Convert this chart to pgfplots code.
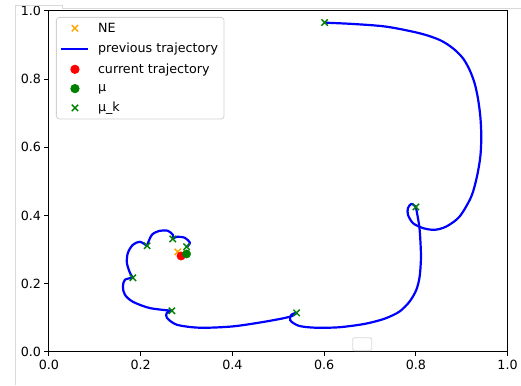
\documentclass[border=0pt]{standalone}
\usepackage{pgfplots}
\pgfplotsset{compat=1.18}
\usepackage{fontspec}
\setmainfont{DejaVu Sans}

\definecolor{mplorange}{HTML}{FFA500}
\definecolor{mplgreen}{HTML}{008000}

\pgfplotsset{traj/.style={blue, line width=2.2pt, smooth, tension=0.5, line join=round}}

\begin{document}
\begin{tikzpicture}[x=1pt,y=1pt]
\begin{axis}[
  at={(0,0)}, anchor=south west,
  scale only axis, width=459pt, height=341pt,
  xmin=0, xmax=1, ymin=0, ymax=1,
  xtick={0,0.2,0.4,0.6,0.8,1}, ytick={0,0.2,0.4,0.6,0.8,1},
  /pgf/number format/assume math mode=true,
  xticklabel style={/pgf/number format/.cd, fixed, fixed zerofill, precision=1},
  yticklabel style={/pgf/number format/.cd, fixed, fixed zerofill, precision=1},
  ticklabel style={font=\fontsize{12.7}{15}\selectfont},
  tick align=outside, tick pos=left, major tick length=4.5pt,
  tick style={black, line width=1pt},
  axis line style={black, line width=1pt},
  legend cell align=left,
  legend image code/.code={\draw[mark repeat=2,mark phase=2,#1] plot coordinates {(0pt,0pt)(13.5pt,0pt)(27pt,0pt)};},
  legend style={at={(0,1)}, anchor=north west, xshift=7pt, yshift=-6pt,
    draw=black!18, rounded corners=3pt, line width=0.8pt,
    font=\fontsize{12.7}{15}\selectfont, inner xsep=4pt, inner ysep=3.5pt,
    row sep=5.5pt, /tikz/every odd column/.append style={column sep=6.5pt}},
]
% Nash equilibrium
\addplot[only marks, mark=x, mark size=4.5pt, color=mplorange, line width=1.4pt] coordinates {(0.281,0.293)};
\addlegendentry{NE}

% previous trajectory, one smooth piece between consecutive mu_k
\addplot[traj] coordinates {
(0.6013,0.9657) (0.6630,0.9619) (0.7357,0.9540) (0.8083,0.9346) (0.8519,0.9150)
(0.8808,0.8906) (0.9026,0.8613) (0.9172,0.8270) (0.9281,0.7880) (0.9353,0.7440)
(0.9406,0.6901) (0.9427,0.6315) (0.9406,0.5728) (0.9332,0.5141) (0.9209,0.4555)
(0.8954,0.3968) (0.8664,0.3675) (0.8410,0.3578) (0.8155,0.3628) (0.7937,0.3774)
(0.7828,0.4018) (0.7828,0.4214) (0.7902,0.4340) (0.8000,0.4252)};
\addlegendentry{previous trajectory}
\addplot[traj, forget plot] coordinates {
(0.8000,0.4252) (0.8075,0.3675) (0.8105,0.3088) (0.8110,0.2698) (0.8083,0.2208)
(0.8011,0.1818) (0.7865,0.1475) (0.7647,0.1182) (0.7357,0.0988) (0.7065,0.0871)
(0.6776,0.0792) (0.6300,0.0715) (0.5800,0.0705) (0.5450,0.0760) (0.5260,0.0920)
(0.5287,0.1085) (0.5400,0.1140)};
\addplot[traj, forget plot] coordinates {
(0.5400,0.1140) (0.5251,0.1026) (0.4743,0.0889) (0.4009,0.0743) (0.3290,0.0704)
(0.2789,0.0792) (0.2571,0.0997) (0.2571,0.1144) (0.2680,0.1202)};
\addplot[traj, forget plot] coordinates {
(0.2680,0.1202) (0.2200,0.1281) (0.1830,0.1466) (0.1656,0.1672)
(0.1612,0.1906) (0.1656,0.2111) (0.1830,0.2170)};
\addplot[traj, forget plot] coordinates {
(0.1830,0.2170) (0.1765,0.2317) (0.1699,0.2610) (0.1721,0.2903) (0.1830,0.3138)
(0.1983,0.3226) (0.2135,0.3109)};
\addplot[traj, forget plot] coordinates {
(0.2135,0.3109) (0.2244,0.3431) (0.2418,0.3548) (0.2593,0.3548) (0.2702,0.3431)
(0.2702,0.3314)};
\addplot[traj, forget plot] coordinates {
(0.2702,0.3314) (0.2789,0.3372) (0.2963,0.3343) (0.3072,0.3196) (0.3007,0.3079)};

% current trajectory
\addplot[only marks, mark=*, mark size=4.2pt, color=red] coordinates {(0.288,0.281)};
\addlegendentry{current trajectory}

% mu
\addplot[only marks, mark=*, mark size=4.2pt, color=mplgreen] coordinates {(0.300,0.287)};
\addlegendentry{μ}

% mu_k
\addplot[only marks, mark=x, mark size=4.5pt, color=mplgreen, line width=1.4pt] coordinates {
(0.601,0.966) (0.800,0.425) (0.540,0.114) (0.268,0.120)
(0.183,0.217) (0.214,0.311) (0.270,0.331) (0.300,0.308)};
\addlegendentry{μ\_k}
\end{axis}

% surrounding frame lines and small box
\draw[black!15, line width=0.8pt] (-34,-33) -- (-34,347) -- (13,347) -- (13,344) -- (472,344);
\draw[black!15, line width=0.8pt, rounded corners=1.5pt] (304,1) rectangle (323,14);

% page extent
\path[use as bounding box] (-49,-33) rectangle (472,352);
\end{tikzpicture}
\end{document}
